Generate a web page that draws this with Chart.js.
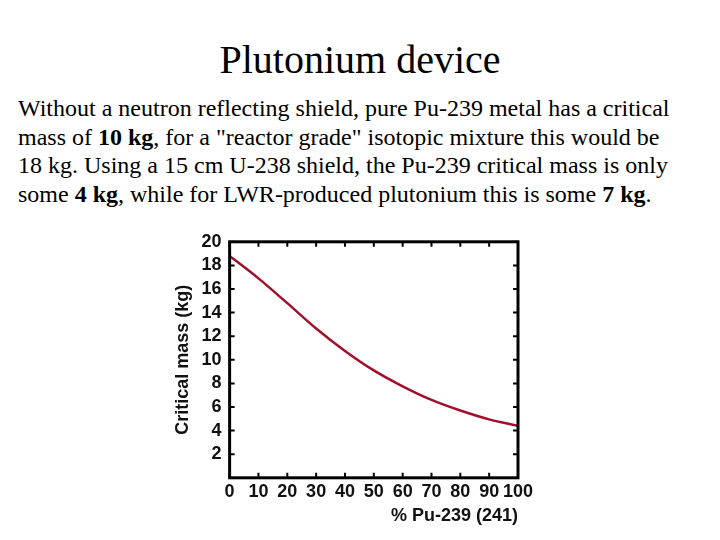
<!DOCTYPE html>
<html>
<head>
<meta charset="utf-8">
<script src="https://cdn.jsdelivr.net/npm/chart.js@4.4.0/dist/chart.umd.min.js"></script>
<style>
    body { margin: 0; width: 720px; height: 540px; background: #fff; position: relative; overflow: hidden; font-family: "Liberation Serif", "Times New Roman", serif; }
    h1 { position: absolute; top: 36px; left: 0; width: 720px; margin: 0; text-align: center; font-weight: normal; font-size: 40px; }
    #text { position: absolute; top: 94px; left: 18px; font-size: 24px; line-height: 28.7px; white-space: nowrap; }
    #chartBox { position: absolute; left: 160px; top: 223px; width: 386px; height: 304px; }
</style>
</head>
<body>
<h1>Plutonium device</h1>
<div id="text">
    Without a neutron reflecting shield, pure Pu-239 metal has a critical<br>
    mass of <b>10 kg</b>, for a "reactor grade" isotopic mixture this would be<br>
    18 kg. Using a 15 cm U-238 shield, the Pu-239 critical mass is only<br>
    some <b>4 kg</b>, while for LWR-produced plutonium this is some <b>7 kg</b>.
</div>
<div id="chartBox"><canvas id="chart" width="386" height="304"></canvas></div>
<script>
const puPercent = [0, 10, 20, 30, 40, 50, 60, 70, 80, 90, 100];
const criticalMass = [18.8, 16.9, 14.8, 12.65, 10.75, 9.1, 7.75, 6.6, 5.7, 4.95, 4.4];
const xTicks = [0, 10, 20, 30, 40, 50, 60, 70, 80, 90, 100];
const yTicks = [2, 4, 6, 8, 10, 12, 14, 16, 18, 20];

// short tick marks pointing into the plot on all four sides
const innerTicks = {
    id: 'innerTicks',
    afterDraw(chart) {
        const { ctx, chartArea: a, scales } = chart;
        const len = 5;
        ctx.save();
        ctx.strokeStyle = '#000';
        ctx.lineWidth = 2;
        ctx.beginPath();
        xTicks.forEach(v => {
            const px = scales.x.getPixelForValue(v);
            ctx.moveTo(px, a.bottom); ctx.lineTo(px, a.bottom - len);
            ctx.moveTo(px, a.top); ctx.lineTo(px, a.top + len);
        });
        yTicks.forEach(v => {
            const py = scales.y.getPixelForValue(v);
            ctx.moveTo(a.left, py); ctx.lineTo(a.left + len, py);
            ctx.moveTo(a.right, py); ctx.lineTo(a.right - len, py);
        });
        ctx.stroke();
        ctx.lineWidth = 3;
        ctx.strokeRect(a.left, a.top, a.right - a.left, a.bottom - a.top);
        ctx.restore();
    }
};

const tickFont = { family: '"Liberation Sans", Arial, sans-serif', size: 18, weight: 'bold' };

new Chart(document.getElementById('chart'), {
    type: 'scatter',
    data: {
        datasets: [{
            data: puPercent.map((x, i) => ({ x: x, y: criticalMass[i] })),
            showLine: true,
            borderColor: '#a0102c',
            borderWidth: 2.5,
            pointRadius: 0,
            cubicInterpolationMode: 'monotone'
        }]
    },
    options: {
        responsive: false,
        animation: false,
        layout: { padding: { top: 10, right: 28, left: 10, bottom: 0 } },
        plugins: { legend: { display: false }, tooltip: { enabled: false } },
        scales: {
            x: {
                min: 0, max: 100,
                afterBuildTicks: s => { s.ticks = xTicks.map(v => ({ value: v })); },
                grid: { display: false, drawTicks: false, tickLength: 0 },
                border: { display: false },
                ticks: { color: '#111', font: tickFont, padding: 3, maxRotation: 0, autoSkip: false },
                title: { display: true, text: '% Pu-239 (241)', align: 'end', color: '#111', font: tickFont, padding: { top: 0, bottom: 0 } }
            },
            y: {
                min: 0, max: 20,
                afterBuildTicks: s => { s.ticks = yTicks.map(v => ({ value: v })); },
                grid: { display: false, drawTicks: false, tickLength: 0 },
                border: { display: false },
                ticks: { color: '#111', font: tickFont, padding: 8, autoSkip: false },
                title: { display: true, text: 'Critical mass (kg)', color: '#111', font: tickFont, padding: { top: 2, bottom: 0 } }
            }
        }
    },
    plugins: [innerTicks]
});
</script>
</body>
</html>
